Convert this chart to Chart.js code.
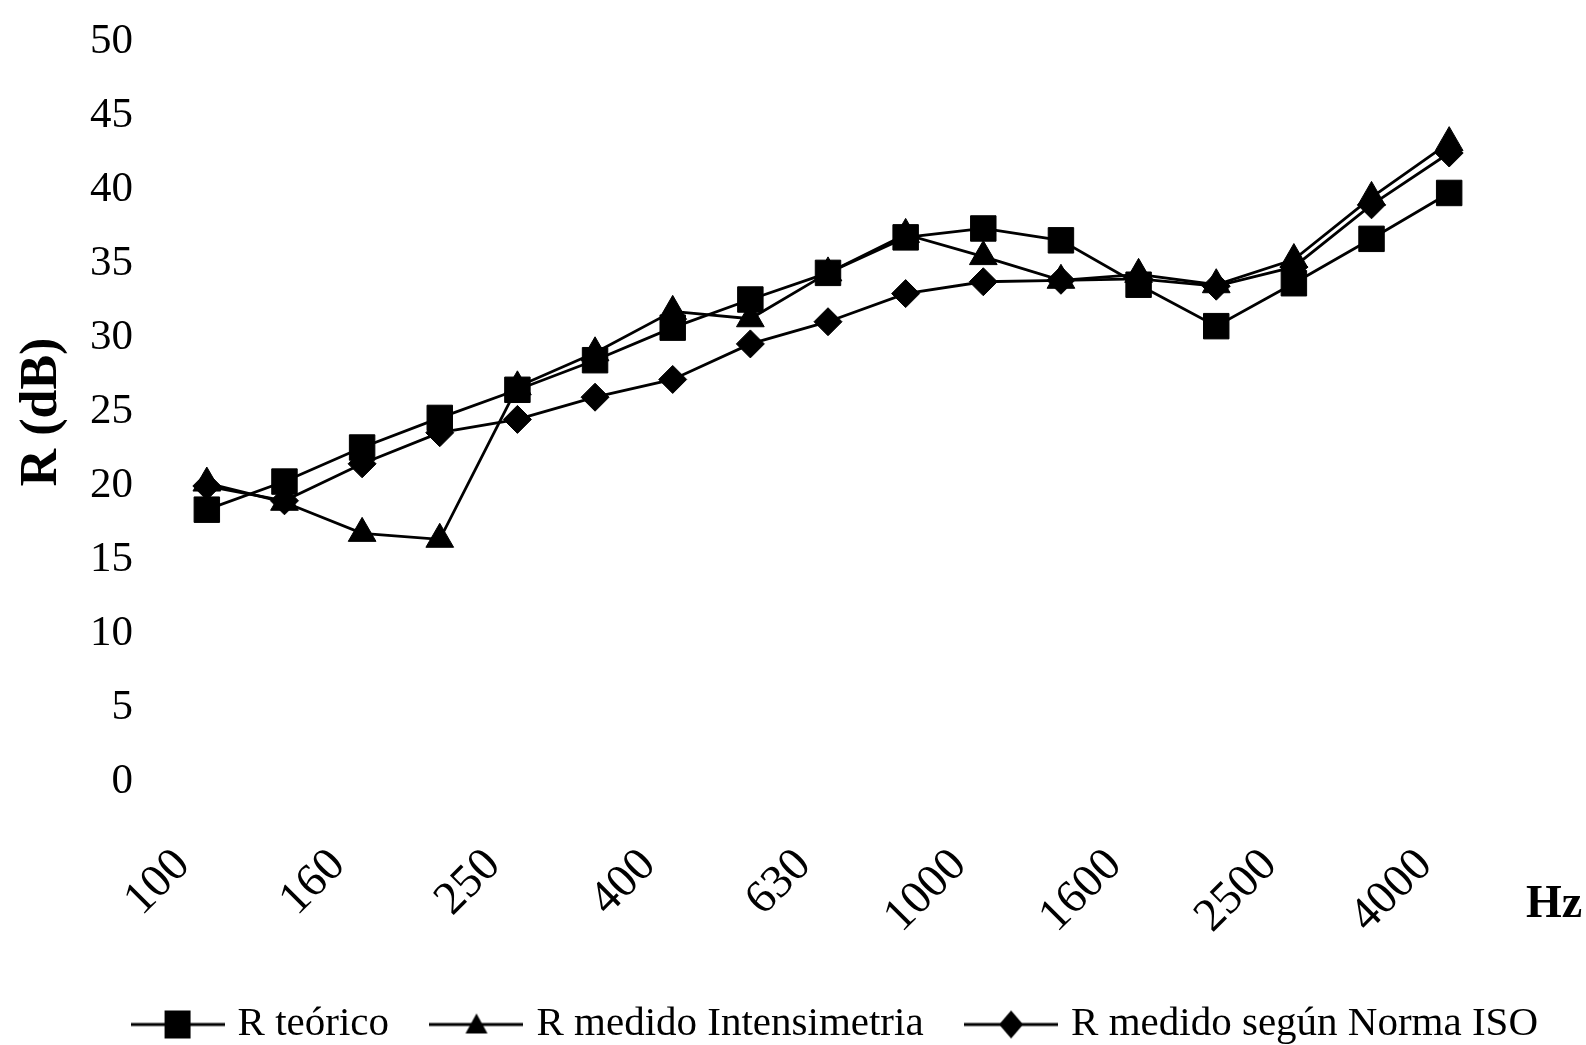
<!DOCTYPE html>
<html>
<head>
<meta charset="utf-8">
<script src="https://cdn.jsdelivr.net/npm/chart.js@4/dist/chart.umd.min.js"></script>
<style>
  html, body { margin: 0; padding: 0; background: #fff; }
  #caja { width: 1586px; height: 1045px; position: relative; }
</style>
</head>
<body>
<div id="caja"><canvas id="grafico"></canvas></div>
<script>
// Frecuencias en tercios de octava (Hz)
const frecuencias = ['100', '125', '160', '200', '250', '315', '400', '500', '630',
                     '800', '1000', '1250', '1600', '2000', '2500', '3150', '4000'];

// Índice de reducción sonora R (dB)
const rTeorico        = [18.4, 20.3, 22.6, 24.6, 26.5, 28.5, 30.7, 32.6, 34.4, 36.8, 37.4, 36.6, 33.6, 30.8, 33.7, 36.7, 39.8];
const rIntensimetria  = [20.2, 18.9, 16.8, 16.4, 26.7, 29.0, 31.8, 31.3, 34.4, 37.0, 35.5, 33.9, 34.3, 33.6, 35.3, 39.5, 43.2];
const rNormaISO       = [20.0, 19.0, 21.5, 23.6, 24.5, 26.0, 27.2, 29.6, 31.1, 33.0, 33.8, 33.9, 34.0, 33.5, 34.8, 39.0, 42.5];

const nombres = ['R teórico', 'R medido Intensimetria', 'R medido según Norma ISO'];
const yMin = 0, yMax = 50, yPaso = 5;

const fuente = "'Liberation Serif', 'Times New Roman', serif";

// icono de la leyenda: linea con el marcador en medio
function iconoLeyenda(tipo) {
    const c = document.createElement('canvas');
    c.width = 94;
    c.height = 32;
    const g = c.getContext('2d');
    g.strokeStyle = '#000';
    g.fillStyle = '#000';
    g.lineWidth = 3;
    g.beginPath();
    g.moveTo(0, 16);
    g.lineTo(94, 16);
    g.stroke();
    g.beginPath();
    if (tipo === 'rect') {
        g.rect(34, 2, 26, 28);
    } else if (tipo === 'triangle') {
        g.moveTo(47, 5);
        g.lineTo(58, 25);
        g.lineTo(36, 25);
        g.closePath();
    } else {
        g.moveTo(47, 2);
        g.lineTo(59, 16);
        g.lineTo(47, 30);
        g.lineTo(35, 16);
        g.closePath();
    }
    g.fill();
    return c;
}

const iconos = [iconoLeyenda('rect'), iconoLeyenda('triangle'), iconoLeyenda('rectRot')];

// texto "Hz" a la derecha del eje x
const etiquetaHz = {
    id: 'etiquetaHz',
    afterDraw(chart) {
        const ctx = chart.ctx;
        const area = chart.chartArea;
        ctx.save();
        ctx.font = 'bold 46px ' + fuente;
        ctx.fillStyle = '#000';
        ctx.textAlign = 'left';
        ctx.textBaseline = 'middle';
        ctx.fillText('Hz', area.right + 38, area.bottom + 123);
        ctx.restore();
    }
};

function serie(nombre, datos, estilo, radio) {
    return {
        label: nombre,
        data: datos,
        borderColor: '#000',
        backgroundColor: '#000',
        borderWidth: 2.8,
        pointStyle: estilo,
        pointRadius: radio,
        pointHoverRadius: radio,
        pointBackgroundColor: '#000',
        pointBorderColor: '#000',
        pointBorderWidth: 1,
        tension: 0,
        fill: false
    };
}

new Chart(document.getElementById('grafico'), {
    type: 'line',
    data: {
        labels: frecuencias,
        datasets: [
            serie(nombres[0], rTeorico, 'rect', 18),
            serie(nombres[1], rIntensimetria, 'triangle', 16),
            serie(nombres[2], rNormaISO, 'rectRot', 14)
        ]
    },
    options: {
        responsive: true,
        maintainAspectRatio: false,
        animation: false,
        layout: { padding: { top: 42, left: 0, right: 0, bottom: 0 } },
        plugins: {
            tooltip: { enabled: false },
            legend: {
                position: 'bottom',
                align: 'end',
                maxHeight: 89,
                labels: {
                    usePointStyle: true,
                    pointStyleWidth: 79,
                    padding: 48,
                    color: '#000',
                    font: { family: fuente, size: 41 },
                    generateLabels(chart) {
                        const items = Chart.defaults.plugins.legend.labels.generateLabels(chart);
                        items.forEach((it, i) => { it.pointStyle = iconos[i]; });
                        return items;
                    }
                }
            }
        },
        scales: {
            x: {
                offset: true,
                grid: { display: false },
                border: { display: false },
                ticks: {
                    autoSkip: false,
                    minRotation: 45,
                    maxRotation: 45,
                    labelOffset: -24,
                    padding: 48,
                    color: '#000',
                    font: { family: fuente, size: 47 },
                    callback: function (val, i) {
                        return i % 2 === 0 ? this.getLabelForValue(val) : '';
                    }
                },
                afterFit(escala) { escala.height = 174; }
            },
            y: {
                min: yMin,
                max: yMax,
                grid: { display: false },
                border: { display: false },
                ticks: {
                    stepSize: yPaso,
                    padding: 27,
                    color: '#000',
                    font: { family: fuente, size: 43, lineHeight: 0.2 }
                },
                title: {
                    display: true,
                    text: 'R (dB)',
                    color: '#000',
                    padding: { top: 17, bottom: 0 },
                    font: { family: fuente, size: 52, weight: 'bold', lineHeight: 1 }
                },
                afterFit(escala) { escala.width = 168; }
            },
            derecha: {
                position: 'right',
                grid: { display: false },
                border: { display: false },
                ticks: { display: false },
                afterFit(escala) { escala.width = 98; }
            }
        }
    },
    plugins: [etiquetaHz]
});
</script>
</body>
</html>
